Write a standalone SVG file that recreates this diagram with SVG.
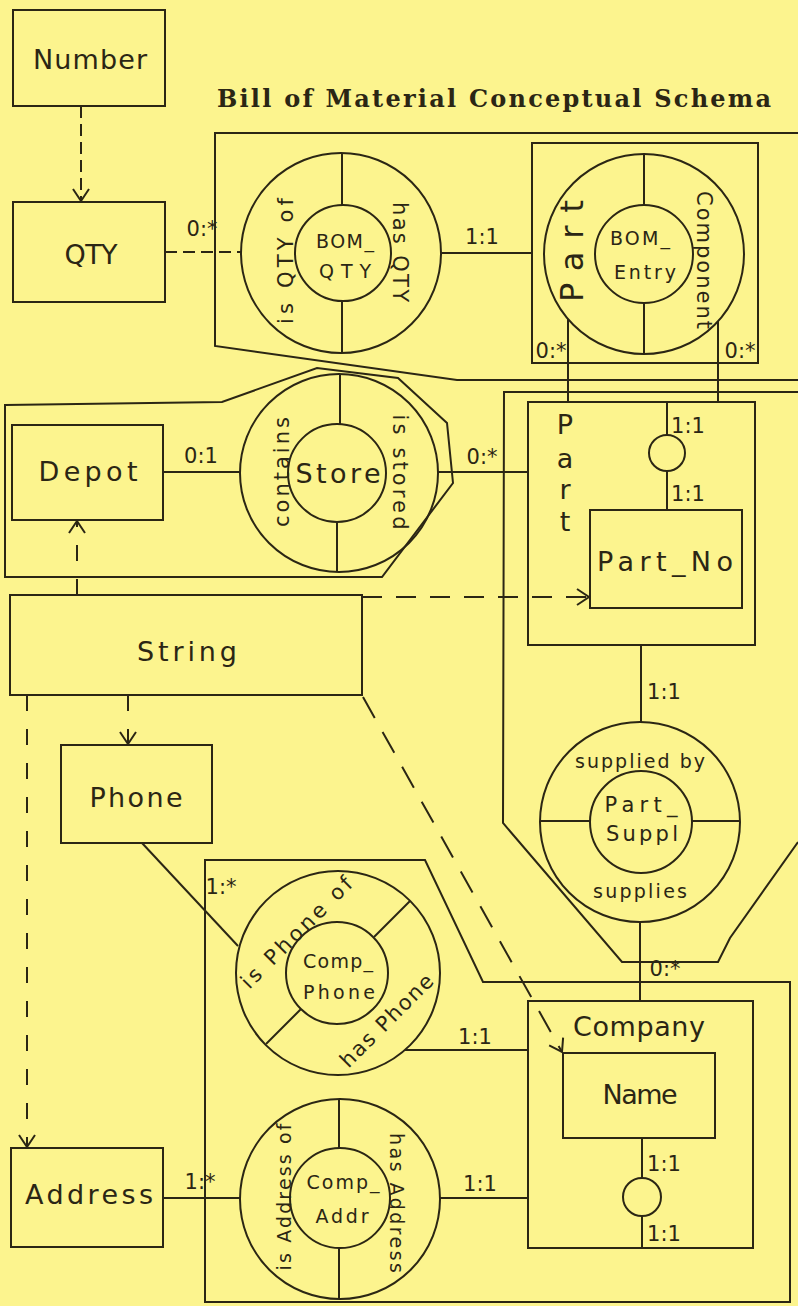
<svg xmlns="http://www.w3.org/2000/svg" width="798" height="1306" viewBox="0 0 798 1306">
<style>
.ln{fill:none;stroke:#2b2614;stroke-width:2}
.bx{fill:none;stroke:#2b2614;stroke-width:2}
.d1{fill:none;stroke:#2b2614;stroke-width:2;stroke-dasharray:12 6}
.d2{fill:none;stroke:#2b2614;stroke-width:2;stroke-dasharray:16 18}
.d3{fill:none;stroke:#2b2614;stroke-width:2;stroke-dasharray:20 14}
.d4{fill:none;stroke:#2b2614;stroke-width:2;stroke-dasharray:24 16}
.t{font-family:"DejaVu Sans","Liberation Sans",sans-serif;fill:#2b2614;text-anchor:middle}
.big{font-size:27px}
.mid{font-size:21px}
.sm{font-size:19px}
.card{font-size:21px}
.title{font-family:"DejaVu Serif","Liberation Serif",serif;font-size:24px;font-weight:bold;fill:#2b2614}
</style>
<defs>
<marker id="arr" markerUnits="userSpaceOnUse" markerWidth="20" markerHeight="20" viewBox="-14 -10 16 20" refX="0" refY="0" orient="auto">
<path d="M-12,-8 L0,0 L-12,8" fill="none" stroke="#2b2614" stroke-width="2"/>
</marker>
</defs>
<rect x="0" y="0" width="798" height="1306" fill="#fcf48e"/>

<g id="title"><text class="title" x="217" y="107" textLength="554" lengthAdjust="spacing">Bill of Material  Conceptual Schema</text></g>

<g id="bom-container"><polyline class="ln" points="798,133 215,133 215,346 457,380 798,380"/></g>
<g id="store-container"><polygon class="ln" points="5,405 222,402 317,368 398,378 447,423 453,483 382,577 5,577"/></g>
<g id="part-container"><polyline class="ln" points="798,392 504,392 503,823 622,962 718,962 730,938 798,842"/></g>
<g id="company-container"><polygon class="ln" points="205,860 425,860 483,982 790,982 790,1302 205,1302"/></g>

<g id="number"><rect class="bx" x="13" y="10" width="152" height="96"/>
<text class="t big" x="90" y="69" textLength="114" lengthAdjust="spacing">Number</text></g>

<g id="qty"><rect class="bx" x="13" y="202" width="152" height="100"/>
<text class="t big" x="91" y="264" textLength="53" lengthAdjust="spacing">QTY</text></g>

<g id="bom-qty">
<circle class="ln" cx="341" cy="253" r="100"/>
<circle class="ln" cx="343" cy="253" r="48"/>
<line class="ln" x1="342" y1="153" x2="342" y2="205"/>
<line class="ln" x1="342" y1="301" x2="342" y2="353"/>
<text class="t sm" x="345" y="248" textLength="58" lengthAdjust="spacing">BOM_</text>
<text class="t sm" x="345" y="278" textLength="52" lengthAdjust="spacing">QTY</text>
<text class="t mid" transform="translate(285,261) rotate(-90)" y="8" textLength="126" lengthAdjust="spacing">is QTY of</text>
<text class="t mid" transform="translate(401,252) rotate(90)" y="8" textLength="100" lengthAdjust="spacing">has QTY</text>
</g>

<g id="bom-entry">
<rect class="bx" x="532" y="143" width="226" height="220"/>
<circle class="ln" cx="644" cy="254" r="100"/>
<circle class="ln" cx="644" cy="254" r="49"/>
<line class="ln" x1="644" y1="154" x2="644" y2="205"/>
<line class="ln" x1="644" y1="303" x2="644" y2="354"/>
<text class="t sm" x="640" y="245" textLength="60" lengthAdjust="spacing">BOM_</text>
<text class="t sm" x="645" y="279" textLength="62" lengthAdjust="spacing">Entry</text>
<text class="t" style="font-size:32px" transform="translate(572,251) rotate(-90)" y="11" textLength="102" lengthAdjust="spacing">Part</text>
<text class="t mid" transform="translate(705,260) rotate(90)" y="8" textLength="138" lengthAdjust="spacing">Component</text>
</g>

<g id="depot"><rect class="bx" x="12" y="425" width="151" height="95"/>
<text class="t big" x="88" y="481" textLength="99" lengthAdjust="spacing">Depot</text></g>

<g id="store">
<circle class="ln" cx="339" cy="473" r="99"/>
<circle class="ln" cx="337" cy="473" r="49"/>
<line class="ln" x1="340" y1="374" x2="340" y2="424"/>
<line class="ln" x1="337" y1="522" x2="337" y2="572"/>
<text class="t big" x="338" y="483" textLength="85" lengthAdjust="spacing">Store</text>
<text class="t mid" transform="translate(281,472) rotate(-90)" y="8" textLength="110" lengthAdjust="spacing">contains</text>
<text class="t mid" transform="translate(401,472) rotate(90)" y="8" textLength="115" lengthAdjust="spacing">is stored</text>
</g>

<g id="part">
<rect class="bx" x="528" y="402" width="227" height="243"/>
<text class="t big" x="565" y="434">P</text>
<text class="t big" x="565" y="468">a</text>
<text class="t big" x="565" y="499">r</text>
<text class="t big" x="565" y="531">t</text>
</g>

<g id="part-no"><rect class="bx" x="590" y="510" width="152" height="98"/>
<text class="t big" x="665" y="571" textLength="136" lengthAdjust="spacing">Part_No</text></g>

<g id="part-no-constraint"><circle class="ln" cx="667" cy="453" r="18"/></g>

<g id="string"><rect class="bx" x="10" y="595" width="352" height="100"/>
<text class="t big" x="187" y="661" textLength="100" lengthAdjust="spacing">String</text></g>

<g id="part-suppl">
<circle class="ln" cx="640" cy="822" r="100"/>
<circle class="ln" cx="641" cy="822" r="51"/>
<line class="ln" x1="540" y1="821" x2="590" y2="821"/>
<line class="ln" x1="692" y1="821" x2="740" y2="821"/>
<text class="t sm" x="640" y="768" textLength="130" lengthAdjust="spacing">supplied by</text>
<text class="t sm" x="640" y="898" textLength="94" lengthAdjust="spacing">supplies</text>
<text class="t mid" x="641" y="812" textLength="73" lengthAdjust="spacing">Part_</text>
<text class="t mid" x="642" y="841" textLength="72" lengthAdjust="spacing">Suppl</text>
</g>

<g id="phone"><rect class="bx" x="61" y="745" width="151" height="98"/>
<text class="t big" x="136" y="807" textLength="93" lengthAdjust="spacing">Phone</text></g>

<g id="comp-phone">
<circle class="ln" cx="338" cy="973" r="102"/>
<circle class="ln" cx="337" cy="973" r="51"/>
<line class="ln" x1="374" y1="937" x2="410" y2="901"/>
<line class="ln" x1="301" y1="1009" x2="266" y2="1044"/>
<text class="t sm" x="338" y="968" textLength="70" lengthAdjust="spacing">Comp_</text>
<text class="t sm" x="339" y="999" textLength="72" lengthAdjust="spacing">Phone</text>
<text class="t mid" transform="translate(296,932) rotate(-45)" y="8" textLength="148" lengthAdjust="spacing">is Phone of</text>
<text class="t mid" transform="translate(386,1020) rotate(-45)" y="8" textLength="122" lengthAdjust="spacing">has Phone</text>
</g>

<g id="address"><rect class="bx" x="11" y="1148" width="152" height="99"/>
<text class="t big" x="89" y="1204" textLength="128" lengthAdjust="spacing">Address</text></g>

<g id="comp-addr">
<circle class="ln" cx="340" cy="1199" r="100"/>
<circle class="ln" cx="340" cy="1198" r="50"/>
<line class="ln" x1="339" y1="1099" x2="339" y2="1148"/>
<line class="ln" x1="339" y1="1248" x2="339" y2="1299"/>
<text class="t sm" x="343" y="1189" textLength="73" lengthAdjust="spacing">Comp_</text>
<text class="t sm" x="342" y="1223" textLength="53" lengthAdjust="spacing">Addr</text>
<text class="t sm" transform="translate(284,1197) rotate(-90)" y="7" textLength="147" lengthAdjust="spacing">is Address of</text>
<text class="t sm" transform="translate(397,1203) rotate(90)" y="7" textLength="140" lengthAdjust="spacing">has Address</text>
</g>

<g id="company"><rect class="bx" x="528" y="1001" width="225" height="247"/>
<text class="t big" x="639" y="1036" textLength="132" lengthAdjust="spacing">Company</text></g>

<g id="name"><rect class="bx" x="563" y="1053" width="152" height="85"/>
<text class="t big" x="640" y="1104" textLength="75" lengthAdjust="spacing">Name</text></g>

<g id="name-constraint"><circle class="ln" cx="642" cy="1197" r="19"/></g>

<g id="connectors">
<line class="d1" x1="81" y1="106" x2="81" y2="201" marker-end="url(#arr)"/>
<line class="d1" x1="165" y1="252" x2="241" y2="252"/>
<line class="ln" x1="440" y1="253" x2="532" y2="253"/>
<line class="ln" x1="568" y1="319" x2="568" y2="402"/>
<line class="ln" x1="718" y1="321" x2="718" y2="402"/>
<line class="ln" x1="163" y1="472" x2="240" y2="472"/>
<line class="ln" x1="438" y1="472" x2="528" y2="472"/>
<line class="ln" x1="667" y1="402" x2="667" y2="435"/>
<line class="ln" x1="667" y1="471" x2="667" y2="510"/>
<line class="ln" x1="641" y1="645" x2="641" y2="722"/>
<line class="ln" x1="640" y1="922" x2="640" y2="1001"/>
<line class="d2" x1="77" y1="595" x2="77" y2="521" marker-end="url(#arr)"/>
<line class="d3" x1="362" y1="597" x2="589" y2="597" marker-end="url(#arr)"/>
<line class="d2" x1="128" y1="695" x2="128" y2="744" marker-end="url(#arr)"/>
<line class="d2" x1="27" y1="695" x2="27" y2="1147" marker-end="url(#arr)"/>
<line class="d4" x1="363" y1="697" x2="562" y2="1052" marker-end="url(#arr)"/>
<line class="ln" x1="142" y1="843" x2="238" y2="946"/>
<line class="ln" x1="405" y1="1050" x2="528" y2="1050"/>
<line class="ln" x1="163" y1="1198" x2="240" y2="1198"/>
<line class="ln" x1="440" y1="1198" x2="528" y2="1198"/>
<line class="ln" x1="642" y1="1138" x2="642" y2="1178"/>
<line class="ln" x1="642" y1="1216" x2="642" y2="1248"/>
<text class="t card" x="202" y="236">0:*</text>
<text class="t card" x="482" y="244">1:1</text>
<text class="t card" x="551" y="358">0:*</text>
<text class="t card" x="740" y="358">0:*</text>
<text class="t card" x="201" y="463">0:1</text>
<text class="t card" x="482" y="464">0:*</text>
<text class="t card" x="688" y="433">1:1</text>
<text class="t card" x="688" y="501">1:1</text>
<text class="t card" x="664" y="699">1:1</text>
<text class="t card" x="665" y="976">0:*</text>
<text class="t card" x="221" y="894">1:*</text>
<text class="t card" x="475" y="1044">1:1</text>
<text class="t card" x="200" y="1189">1:*</text>
<text class="t card" x="480" y="1191">1:1</text>
<text class="t card" x="664" y="1171">1:1</text>
<text class="t card" x="664" y="1241">1:1</text>
</g>
</svg>
